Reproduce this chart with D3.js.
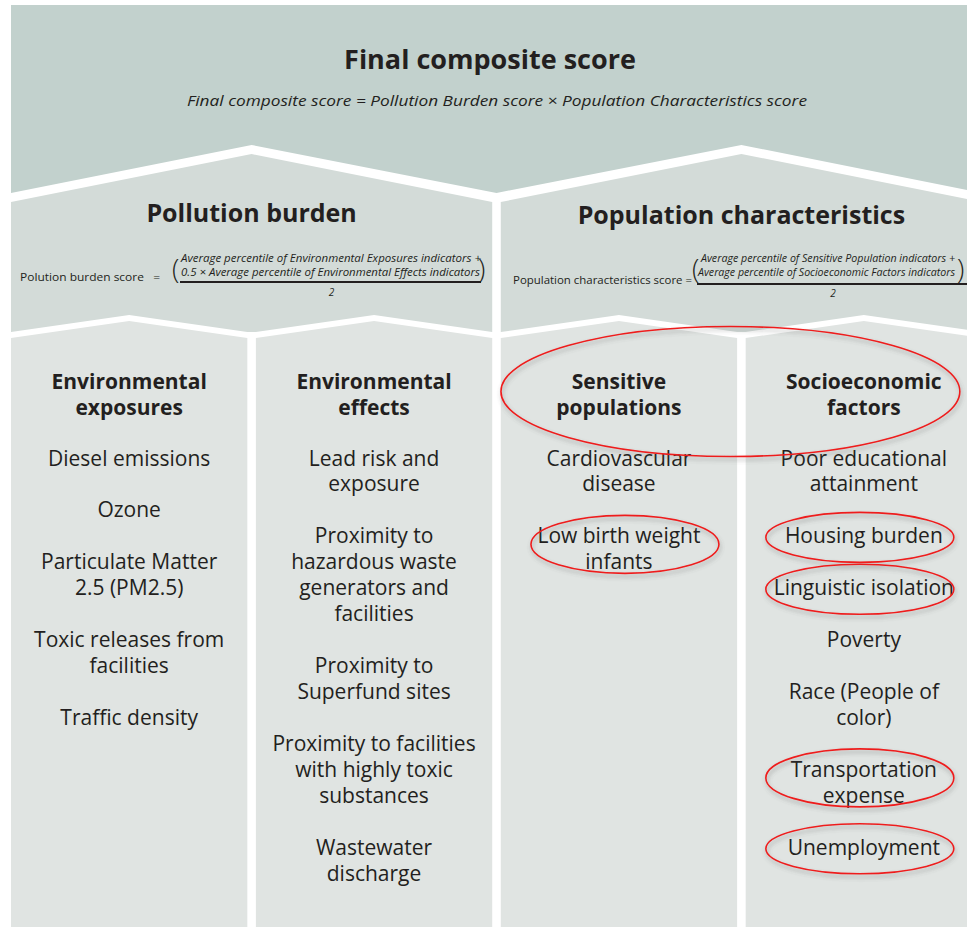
<!DOCTYPE html>
<html><head><meta charset="utf-8">
<script src="https://cdn.jsdelivr.net/npm/d3@7"></script>
<style>
body{margin:0;background:#fff}
svg{display:block}
text{font-family:"Open Sans",sans-serif;fill:#231f20}
</style>
</head><body>
<svg id="c" width="967" height="927"></svg>
<script>
// ---------------- data ----------------
const title = "Final composite score";
const titleFormula = "Final composite score = Pollution Burden score \u00d7 Population Characteristics score";
const groups = ["Pollution burden", "Population characteristics"];
const groupScoreLabels = ["Polution burden score   =", "Population characteristics score ="];
const groupNumerators = [
  ["Average percentile of Environmental Exposures indicators +", "0.5 \u00d7 Average percentile of Environmental Effects indicators"],
  ["Average percentile of Sensitive Population indicators +", "Average percentile of Socioeconomic Factors indicators"]
];
const denominator = "2";
const columnHeaders = [["Environmental", "exposures"], ["Environmental", "effects"], ["Sensitive", "populations"], ["Socioeconomic", "factors"]];
const columnGroup = [0, 0, 1, 1];
const envExposures = [["Diesel emissions"], ["Ozone"], ["Particulate Matter", "2.5 (PM2.5)"], ["Toxic releases from", "facilities"], ["Traffic density"]];
const envEffects = [["Lead risk and", "exposure"], ["Proximity to", "hazardous waste", "generators and", "facilities"], ["Proximity to", "Superfund sites"], ["Proximity to facilities", "with highly toxic", "substances"], ["Wastewater", "discharge"]];
const sensitivePops = [["Cardiovascular", "disease"], ["Low birth weight", "infants"]];
const socioFactors = [["Poor educational", "attainment"], ["Housing burden"], ["Linguistic isolation"], ["Poverty"], ["Race (People of", "color)"], ["Transportation", "expense"], ["Unemployment"]];
const columnItems = [envExposures, envEffects, sensitivePops, socioFactors];
const highlightedColumns = [2, 3];
const highlightedItems = ["Low birth weight infants", "Housing burden", "Linguistic isolation", "Transportation expense", "Unemployment"];

// ---------------- layout ----------------
const W = 967, H = 927;
const svg = d3.select("#c");
const colors = {top: "#c2d1cd", mid: "#d3dbd8", bot: "#e0e4e2", red: "#ee1c1c"};

const x = d3.scaleBand().domain(d3.range(columnHeaders.length)).range([11, 982]).paddingInner(0.035);
const bw = x.bandwidth();
const cx = j => x(j) + bw / 2;
const groupExtent = g => {
  const cols = d3.range(columnHeaders.length).filter(j => columnGroup[j] === g);
  return [x(cols[0]), x(cols[cols.length - 1]) + bw];
};
const gc = g => { const e = groupExtent(g); return (e[0] + e[1]) / 2; };

const yTop = 5, yTopSide = 193, yTopPeak = 145;
const yMidSide = 202, yMidPeak = 154, yMidBot = 332, yMidBotPeak = 315;
const yBotSide = 338, yBotPeak = 321;

const defs = svg.append("defs");
const f = defs.append("filter").attr("id", "sh").attr("x", "-10%").attr("y", "-10%").attr("width", "120%").attr("height", "130%");
f.append("feDropShadow").attr("dx", 1).attr("dy", 3).attr("stdDeviation", 2).attr("flood-color", "#555").attr("flood-opacity", 0.45);

svg.append("rect").attr("width", W).attr("height", H).attr("fill", "#fff");

// top panel
const e0 = groupExtent(0), e1 = groupExtent(1);
const gapMid = (e0[1] + e1[0]) / 2;
const topPts = [[11, yTop], [e1[1], yTop], [e1[1], yTopSide], [gc(1), yTopPeak], [gapMid, yTopSide], [gc(0), yTopPeak], [11, yTopSide]];
svg.append("polygon").attr("points", topPts.map(p => p.join(",")).join(" ")).attr("fill", colors.top);

// middle panels
groups.forEach((gName, g) => {
  const e = groupExtent(g);
  const cols = d3.range(columnHeaders.length).filter(j => columnGroup[j] === g);
  const pts = [[e[0], yMidSide], [gc(g), yMidPeak], [e[1], yMidSide], [e[1], yMidBot]];
  cols.slice().reverse().forEach(j => {
    pts.push([x(j) + bw, yMidBot], [cx(j), yMidBotPeak], [x(j), yMidBot]);
  });
  svg.append("polygon").attr("points", pts.map(p => p.join(",")).join(" ")).attr("fill", colors.mid);
});

// bottom panels
columnHeaders.forEach((h, j) => {
  const pts = [[x(j), yBotSide], [cx(j), yBotPeak], [x(j) + bw, yBotSide], [x(j) + bw, H], [x(j), H]];
  svg.append("polygon").attr("points", pts.map(p => p.join(",")).join(" ")).attr("fill", colors.bot);
});

// ---------------- texts ----------------
svg.append("text").attr("x", 490).attr("y", 69).attr("text-anchor", "middle")
  .attr("font-size", 27).attr("font-weight", 700).text(title);
svg.append("text").attr("x", 497).attr("y", 106).attr("text-anchor", "middle")
  .attr("font-size", 15).attr("font-style", "italic").attr("textLength", 620).attr("lengthAdjust", "spacingAndGlyphs")
  .text(titleFormula);

const formulaGeo = [
  {hy: 222, labX: 20, labY: 281, labLen: 140, lp: 172, rp: 478, nx: [181, 181], nLen: [300, 299], ny: [262, 276], barX: [180, 481], barY: 281, dY: 296},
  {hy: 224, labX: 513, labY: 284, labLen: 179, lp: 692, rp: 957, nx: [701, 698], nLen: [254, 257], ny: [262, 276], barX: [697, 990], barY: 283, dY: 297}
];
groups.forEach((gName, g) => {
  const G = formulaGeo[g];
  svg.append("text").attr("x", gc(g)).attr("y", G.hy).attr("text-anchor", "middle")
    .attr("font-size", 25).attr("font-weight", 700).text(gName);
  svg.append("text").attr("x", G.labX).attr("y", G.labY).attr("font-size", 10.5)
    .style("white-space", "pre")
    .attr("textLength", G.labLen).attr("lengthAdjust", "spacingAndGlyphs").text(groupScoreLabels[g]);
  svg.append("text").attr("x", G.lp).attr("y", G.ny[1] + 3).attr("font-size", 27).attr("font-weight", 300).text("(");
  svg.append("text").attr("x", G.rp).attr("y", G.ny[1] + 3).attr("font-size", 27).attr("font-weight", 300).text(")");
  groupNumerators[g].forEach((line, i) => {
    svg.append("text").attr("x", G.nx[i]).attr("y", G.ny[i]).attr("font-size", 10).attr("font-style", "italic")
      .attr("textLength", G.nLen[i]).attr("lengthAdjust", "spacingAndGlyphs").text(line);
  });
  svg.append("rect").attr("x", G.barX[0]).attr("y", G.barY).attr("width", G.barX[1] - G.barX[0]).attr("height", 2).attr("fill", "#231f20");
  svg.append("text").attr("x", (G.barX[0] + Math.min(G.barX[1], 967)) / 2 + 1).attr("y", G.dY).attr("text-anchor", "middle")
    .attr("font-size", 10).attr("font-style", "italic").text(denominator);
});

// column headers
const headerY = [388.5, 414.5];
columnHeaders.forEach((lines, j) => {
  lines.forEach((l, i) => {
    svg.append("text").attr("x", cx(j)).attr("y", headerY[i]).attr("text-anchor", "middle")
      .attr("font-size", 21).attr("font-weight", 700).text(l);
  });
});

// items on a line grid
const lineY = d3.scaleLinear().domain([0, 15]).range([465.5, 465.5 + 15 * 25.95]);
const itemBoxes = [];
columnItems.forEach((items, j) => {
  let li = 0;
  items.forEach(lines => {
    const first = li;
    lines.forEach(l => {
      svg.append("text").attr("x", cx(j)).attr("y", lineY(li)).attr("text-anchor", "middle")
        .attr("font-size", 21).attr("fill", "#2a2a2a").text(l);
      li++;
    });
    itemBoxes.push({col: j, key: lines.join(" "), y0: lineY(first), y1: lineY(li - 1), n: lines.length});
    li++;
  });
});

// ---------------- annotations ----------------
const ann = svg.append("g").attr("fill", "none").attr("stroke", colors.red).attr("stroke-width", 1.6).attr("filter", "url(#sh)");
const hc = highlightedColumns;
ann.append("ellipse")
  .attr("cx", (cx(hc[0]) + cx(hc[hc.length - 1])) / 2 - 11)
  .attr("cy", (headerY[0] + headerY[1]) / 2 - 10)
  .attr("rx", (cx(hc[hc.length - 1]) - cx(hc[0])) / 2 + 107)
  .attr("ry", 65);
itemBoxes.filter(d => highlightedItems.includes(d.key)).forEach(d => {
  ann.append("ellipse")
    .attr("cx", cx(d.col) + (d.col === hc[0] ? 6 : -4))
    .attr("cy", (d.y0 + d.y1) / 2 - (d.n > 1 ? 12 : 6))
    .attr("rx", 94)
    .attr("ry", d.n > 1 ? 29 : 25);
});
</script>
</body></html>
